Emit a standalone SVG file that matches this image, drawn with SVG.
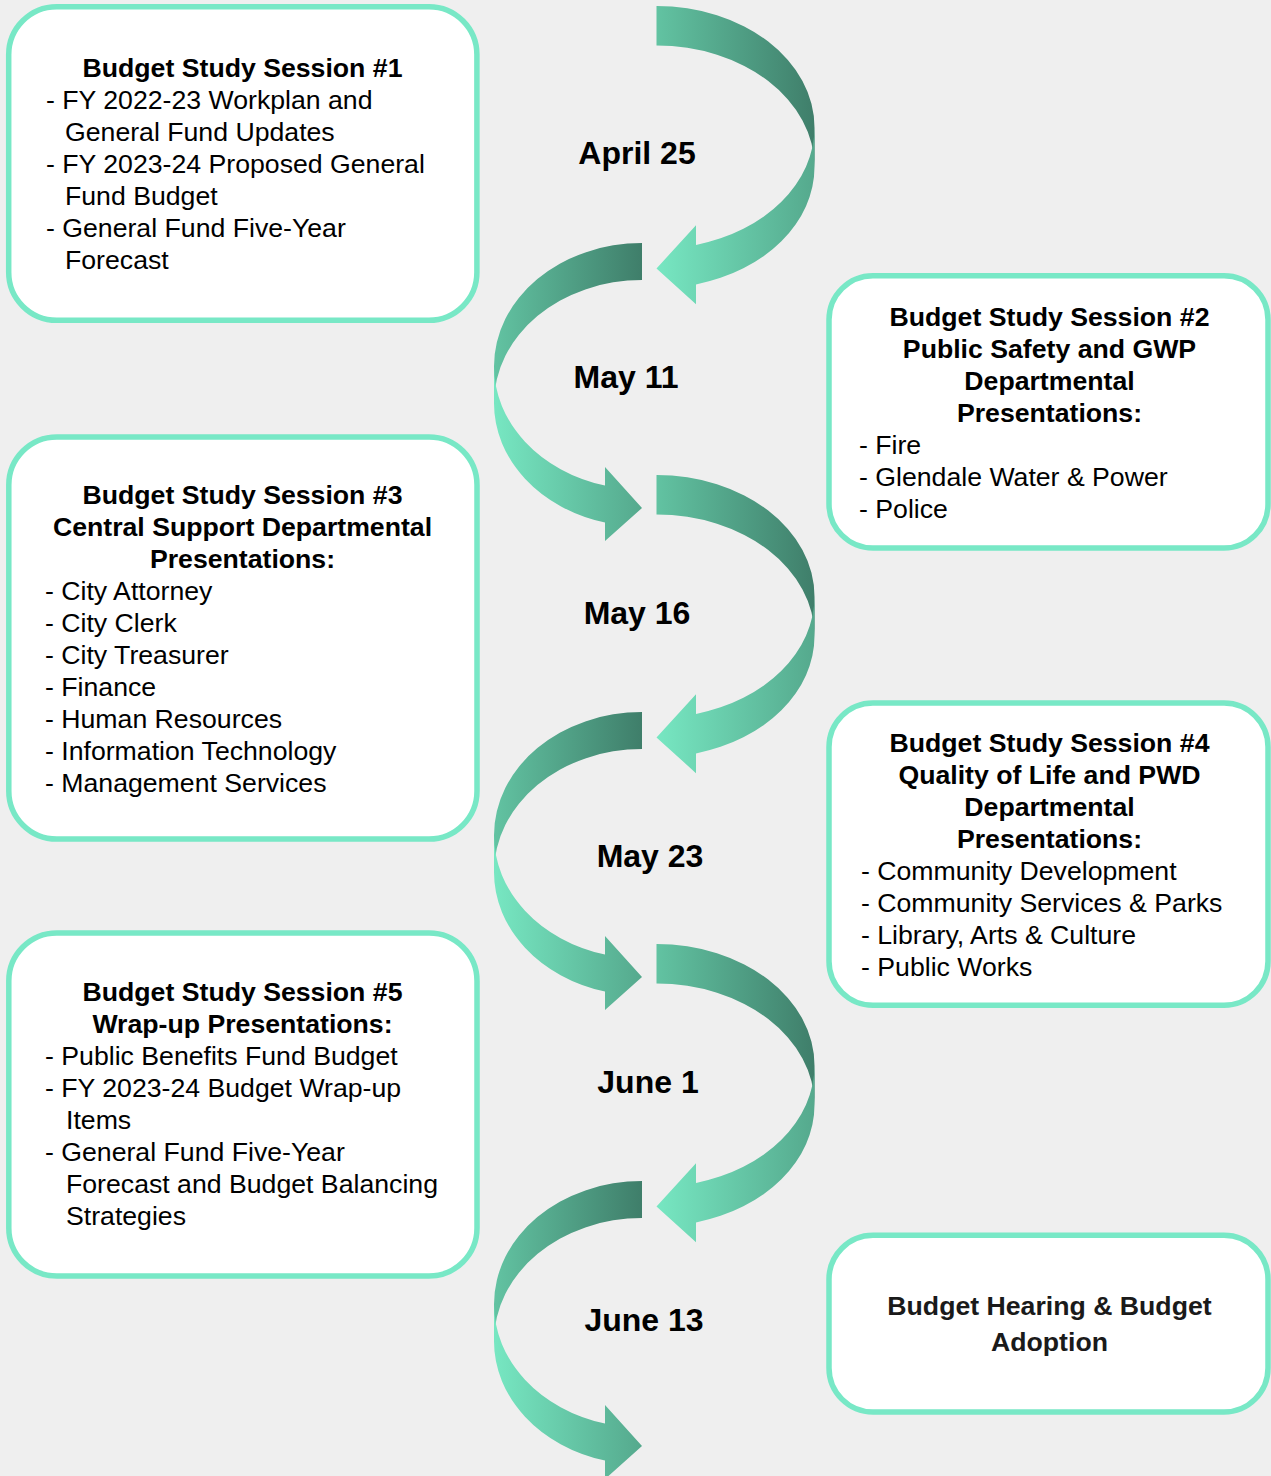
<svg xmlns="http://www.w3.org/2000/svg" xmlns:xlink="http://www.w3.org/1999/xlink" width="1271" height="1476" viewBox="0 0 1271 1476">
  <style>
    .box { fill: #ffffff; stroke: #78e8c6; stroke-width: 5.5; }
    .t { font-family: "Liberation Sans", Arial, sans-serif; font-size: 26.67px; fill: #000000; }
    .b { font-weight: bold; }
    .c { text-anchor: middle; }
    .date { font-family: "Liberation Sans", Arial, sans-serif; font-size: 32px; font-weight: bold; fill: #000000; text-anchor: middle; }
  </style>
  <defs>
    <!-- horizontal shading: lighter front band, darker back band -->
    <linearGradient id="gFront" x1="0" y1="0" x2="1" y2="0">
      <stop offset="0" stop-color="#77e7c2"/>
      <stop offset="1" stop-color="#55a98d"/>
    </linearGradient>
    <linearGradient id="gBack" x1="0" y1="0" x2="1" y2="0">
      <stop offset="0" stop-color="#62c3a2"/>
      <stop offset="1" stop-color="#3f7e6a"/>
    </linearGradient>

    <!-- curved arrow bending right then pointing right (w=148, h=302) -->
    <g id="curveRight">
      <path fill="url(#gBack)" d="M 0,123.25 A 148 123.25 0 0 1 148,0 L 148,37 A 148 123.25 0 0 0 0,160.25 Z"/>
      <path fill="url(#gFront)" d="M 0,123.25 A 148 123.25 0 0 0 111,242.59 L 111,224.09 L 148,265 L 111,298.09 L 111,279.59 A 148 123.25 0 0 1 0,160.25 Z"/>
    </g>

    <!-- curved arrow bending left then pointing left (w=158, h=302) -->
    <g id="curveLeft">
      <path fill="url(#gBack)" d="M 158,121.375 A 158 121.375 0 0 0 0,0 L 0,39.5 A 158 121.375 0 0 1 158,160.875 Z"/>
      <path fill="url(#gFront)" d="M 158,121.375 A 158 121.375 0 0 1 39.5,238.9 L 39.5,219.15 L 0,262.5 L 39.5,298.15 L 39.5,278.4 A 158 121.375 0 0 0 158,160.875 Z"/>
    </g>
  </defs>

  <rect x="0" y="0" width="1271" height="1476" fill="#efefef"/>

  <!-- timeline arrows -->
  <g id="connectors">
    <use xlink:href="#curveLeft" href="#curveLeft" transform="translate(656.5,6)"/>
    <use xlink:href="#curveRight" href="#curveRight" transform="translate(494,243)"/>
    <use xlink:href="#curveLeft" href="#curveLeft" transform="translate(656.5,475)"/>
    <use xlink:href="#curveRight" href="#curveRight" transform="translate(494,712)"/>
    <use xlink:href="#curveLeft" href="#curveLeft" transform="translate(656.5,944)"/>
    <use xlink:href="#curveRight" href="#curveRight" transform="translate(494,1181)"/>
  </g>

  <!-- dates -->
  <g id="dates">
    <text class="date" x="637" y="163.5">April 25</text>
    <text class="date" x="626" y="387.5">May 11</text>
    <text class="date" x="637" y="624">May 16</text>
    <text class="date" x="650" y="867">May 23</text>
    <text class="date" x="648" y="1093">June 1</text>
    <text class="date" x="644" y="1331">June 13</text>
  </g>

  <g id="session1">
    <rect class="box" x="8.7" y="6.7" width="468.2" height="313.6" rx="48" ry="48"/>
    <text class="t b c" x="242.5" y="76.5">Budget Study Session #1</text>
    <text class="t" x="46" y="108.5">- FY 2022-23 Workplan and</text>
    <text class="t" x="65" y="140.5">General Fund Updates</text>
    <text class="t" x="46" y="172.5">- FY 2023-24 Proposed General</text>
    <text class="t" x="65" y="204.5">Fund Budget</text>
    <text class="t" x="46" y="236.5">- General Fund Five-Year</text>
    <text class="t" x="65" y="268.5">Forecast</text>
  </g>

  <g id="session2">
    <rect class="box" x="829" y="275.7" width="439" height="272.3" rx="44" ry="44"/>
    <text class="t b c" x="1049.5" y="325.5">Budget Study Session #2</text>
    <text class="t b c" x="1049.5" y="357.5">Public Safety and GWP</text>
    <text class="t b c" x="1049.5" y="389.5">Departmental</text>
    <text class="t b c" x="1049.5" y="421.5">Presentations:</text>
    <text class="t" x="859" y="453.5">- Fire</text>
    <text class="t" x="859" y="485.5">- Glendale Water &amp; Power</text>
    <text class="t" x="859" y="517.5">- Police</text>
  </g>

  <g id="session3">
    <rect class="box" x="8.8" y="437" width="468.2" height="402" rx="48" ry="48"/>
    <text class="t b c" x="242.5" y="503.5">Budget Study Session #3</text>
    <text class="t b c" x="242.5" y="535.5">Central Support Departmental</text>
    <text class="t b c" x="242.5" y="567.5">Presentations:</text>
    <text class="t" x="45" y="599.5">- City Attorney</text>
    <text class="t" x="45" y="631.5">- City Clerk</text>
    <text class="t" x="45" y="663.5">- City Treasurer</text>
    <text class="t" x="45" y="695.5">- Finance</text>
    <text class="t" x="45" y="727.5">- Human Resources</text>
    <text class="t" x="45" y="759.5">- Information Technology</text>
    <text class="t" x="45" y="791.5">- Management Services</text>
  </g>

  <g id="session4">
    <rect class="box" x="829" y="703" width="439" height="302.3" rx="44" ry="44"/>
    <text class="t b c" x="1049.5" y="751.5">Budget Study Session #4</text>
    <text class="t b c" x="1049.5" y="783.5">Quality of Life and PWD</text>
    <text class="t b c" x="1049.5" y="815.5">Departmental</text>
    <text class="t b c" x="1049.5" y="847.5">Presentations:</text>
    <text class="t" x="861" y="879.5">- Community Development</text>
    <text class="t" x="861" y="911.5">- Community Services &amp; Parks</text>
    <text class="t" x="861" y="943.5">- Library, Arts &amp; Culture</text>
    <text class="t" x="861" y="975.5">- Public Works</text>
  </g>

  <g id="session5">
    <rect class="box" x="8.8" y="933" width="468.2" height="343" rx="48" ry="48"/>
    <text class="t b c" x="242.5" y="1001">Budget Study Session #5</text>
    <text class="t b c" x="242.5" y="1033">Wrap-up Presentations:</text>
    <text class="t" x="45" y="1065">- Public Benefits Fund Budget</text>
    <text class="t" x="45" y="1097">- FY 2023-24 Budget Wrap-up</text>
    <text class="t" x="66" y="1129">Items</text>
    <text class="t" x="45" y="1161">- General Fund Five-Year</text>
    <text class="t" x="66" y="1193">Forecast and Budget Balancing</text>
    <text class="t" x="66" y="1225">Strategies</text>
  </g>

  <g id="adoption">
    <rect class="box" x="829" y="1235.3" width="439" height="176.7" rx="44" ry="44"/>
    <text class="t b c" x="1049.5" y="1314.5" fill="#1a1a1a" style="fill:#1a1a1a">Budget Hearing &amp; Budget</text>
    <text class="t b c" x="1049.5" y="1350.5" style="fill:#1a1a1a">Adoption</text>
  </g>
</svg>
